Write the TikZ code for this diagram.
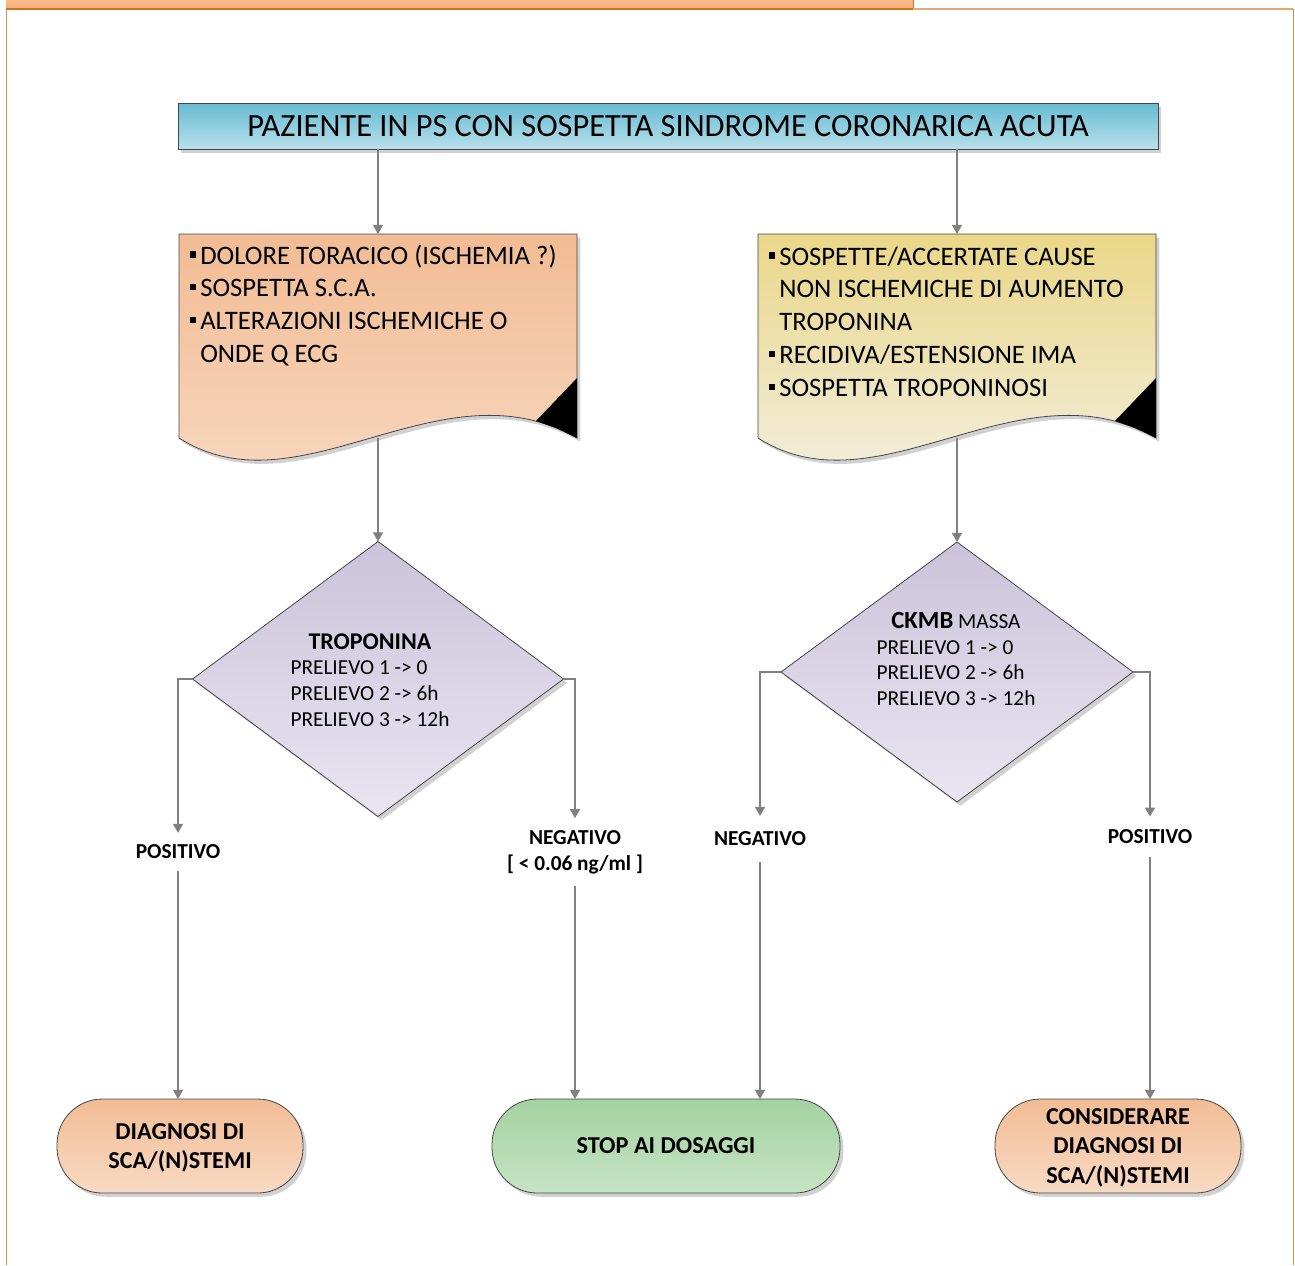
\documentclass[tikz,border=0pt]{standalone}
\usepackage{fontspec}
\setmainfont{Carlito}
\usetikzlibrary{arrows.meta,shapes.geometric,shadows}

\definecolor{tabTop}{RGB}{248,188,140}
\definecolor{tabBot}{RGB}{246,172,112}
\definecolor{tabDark}{RGB}{208,112,34}
\definecolor{frameOr}{RGB}{222,140,70}
\definecolor{frameLight}{RGB}{230,168,110}
\definecolor{titleTop}{RGB}{104,187,210}
\definecolor{titleBot}{RGB}{184,224,235}
\definecolor{orTop}{RGB}{242,188,148}
\definecolor{orBot}{RGB}{248,218,196}
\definecolor{yeTop}{RGB}{234,215,136}
\definecolor{yeBot}{RGB}{243,241,234}
\definecolor{liTop}{RGB}{203,195,218}
\definecolor{liBot}{RGB}{233,229,241}
\definecolor{grTop}{RGB}{164,210,161}
\definecolor{grBot}{RGB}{198,228,195}
\definecolor{edge}{RGB}{70,70,70}
\definecolor{arrowGray}{RGB}{128,128,128}

% square bullet with its gap before the text
\newcommand\sqbul{\makebox[7.5pt][l]{\rule[4.8pt]{4.6pt}{4.6pt}}}

\begin{document}
\begin{tikzpicture}[x=0.75pt,y=-0.75pt,
  shade/.style={drop shadow={shadow xshift=2.6pt,shadow yshift=-2.8pt,fill=black!40,opacity=.45}},
  outline/.style={draw=edge,line width=0.6pt},
  titlebox/.style={rectangle,outline,shade,top color=titleTop,bottom color=titleBot,
    minimum width=735pt,minimum height=34.5pt,inner sep=0pt,outer sep=0pt,
    font=\fontsize{24.3}{28}\selectfont},
  decision/.style={diamond,outline,shade,top color=liTop,bottom color=liBot,
    inner sep=0pt,outer sep=0pt},
  dtext/.style={inner sep=0pt,font=\fontsize{16}{19.3}\selectfont},
  doctext/.style={inner sep=0pt,font=\fontsize{20}{24.6}\selectfont},
  lab/.style={align=center,inner xsep=2pt,inner ysep=9pt,outer sep=0pt,
    font=\fontsize{16}{19.5}\selectfont\bfseries},
  term/.style={rectangle,rounded corners=34pt,outline,shade,align=center,
    minimum width=184.5pt,minimum height=70.5pt,inner sep=0pt,outer sep=0pt,
    text depth=0pt,font=\fontsize{18.2}{22}\selectfont\bfseries},
  termOr/.style={term,top color=orTop,bottom color=orBot},
  termGr/.style={term,top color=grTop,bottom color=grBot},
  conn/.style={draw=arrowGray,line width=1.1pt,
    -{Triangle[length=6.8pt,width=7.5pt]}},
]
\useasboundingbox (0,0) rectangle (1295,1265);

% page frame with the header tab
\fill[top color=tabTop,bottom color=tabBot] (6,0) rectangle (913,9);
\draw[tabDark,line width=0.7pt] (913,0) -- (913,9);
\draw[frameLight,line width=1.4pt] (913,9) -- (1293,9);
\draw[tabDark,line width=1.6pt] (6,9) -- (913,9);
\draw[frameOr,line width=0.7pt] (6,9) -- (6,1265);
\draw[frameOr,line width=0.7pt] (1293,9) -- (1293,1265);

% heading
\node[titlebox] (title) at (668,126) {PAZIENTE IN PS CON SOSPETTA SINDROME CORONARICA ACUTA};

% document shapes with wavy lower edge and folded corner
\path[outline,shade,top color=orTop,bottom color=orBot]
  (179,234) -- (577,234) -- (577,438) .. controls (440,360) and (300,515) .. (179,438) -- cycle;
\fill[black] (577,378) -- (536,421) -- (556,428) -- (577,438) -- cycle;
\begin{scope}[shift={(579,0)}]
\path[outline,shade,top color=yeTop,bottom color=yeBot]
  (179,234) -- (577,234) -- (577,438) .. controls (440,360) and (300,515) .. (179,438) -- cycle;
\fill[black] (577,378) -- (536,421) -- (556,428) -- (577,438) -- cycle;
\end{scope}
\coordinate (dLtop) at (378,234);
\coordinate (dLbot) at (378,438);
\coordinate (dRtop) at (957,234);
\coordinate (dRbot) at (957,438);

\node[doctext,anchor=base west] (dLtxt) at (190,264) {%
  \begin{tabular}[t]{@{}l@{}l@{}}
  \sqbul & DOLORE TORACICO (ISCHEMIA ?)\\
  \sqbul & SOSPETTA S.C.A.\\
  \sqbul & ALTERAZIONI ISCHEMICHE O\\
         & ONDE Q ECG
  \end{tabular}};
\node[doctext,anchor=base west] (dRtxt) at (769,265) {%
  \begin{tabular}[t]{@{}l@{}l@{}}
  \sqbul & SOSPETTE/ACCERTATE CAUSE\\
         & NON ISCHEMICHE DI AUMENTO\\
         & TROPONINA\\
  \sqbul & RECIDIVA/ESTENSIONE IMA\\
  \sqbul & SOSPETTA TROPONINOSI
  \end{tabular}};

% decisions
\node[decision,minimum width=278.25pt,minimum height=206.25pt] (trop) at (378,679) {};
\node[dtext,anchor=base] (tropTxt) at (370,649) {%
  \begin{tabular}[t]{@{}l@{}}
  \multicolumn{1}{@{}c@{}}{\fontsize{18}{19.3}\selectfont\bfseries TROPONINA}\\
  PRELIEVO 1 -> 0\\
  PRELIEVO 2 -> 6h\\
  PRELIEVO 3 -> 12h
  \end{tabular}};
\node[decision,minimum width=264pt,minimum height=195pt] (ckmb) at (957,672) {};
\node[dtext,anchor=base] (ckmbTxt) at (956,628.5) {%
  \begin{tabular}[t]{@{}l@{}}
  \multicolumn{1}{@{}c@{}}{{\fontsize{18.5}{19.3}\selectfont\bfseries CKMB} MASSA}\\
  PRELIEVO 1 -> 0\\
  PRELIEVO 2 -> 6h\\
  PRELIEVO 3 -> 12h
  \end{tabular}};

% branch labels
\node[lab] (posL) at (178,852) {POSITIVO};
\node[lab] (negL) at (575,852) {NEGATIVO\\{[} < 0.06 ng/ml ]};
\node[lab,inner ysep=12pt] (negR) at (760,839) {NEGATIVO};
\node[lab,inner ysep=10pt] (posR) at (1150,837) {POSITIVO};

% outcomes
\node[termOr] (diagL) at (180,1146) {DIAGNOSI DI\\SCA/(N)STEMI};
\node[termGr,minimum width=261pt] (stop) at (666,1146) {STOP AI DOSAGGI};
\node[termOr] (consR) at (1118,1146) {CONSIDERARE\\DIAGNOSI DI\\SCA/(N)STEMI};

% connectors
\draw[conn] (title.south -| dLtop) -- (dLtop);
\draw[conn] (title.south -| dRtop) -- (dRtop);
\draw[conn] (dLbot) -- (trop.north);
\draw[conn] (dRbot) -- (ckmb.north);
\draw[conn] (trop.west) -| (posL.north);
\draw[conn] (trop.east) -| (negL.north);
\draw[conn] (ckmb.west) -| (negR.north);
\draw[conn] (ckmb.east) -| (posR.north);
\draw[conn] (posL.south) -- (posL.south |- diagL.north);
\draw[conn] (negL.south) -- (negL.south |- stop.north);
\draw[conn] (negR.south) -- (negR.south |- stop.north);
\draw[conn] (posR.south) -- (posR.south |- consR.north);
\end{tikzpicture}
\end{document}
